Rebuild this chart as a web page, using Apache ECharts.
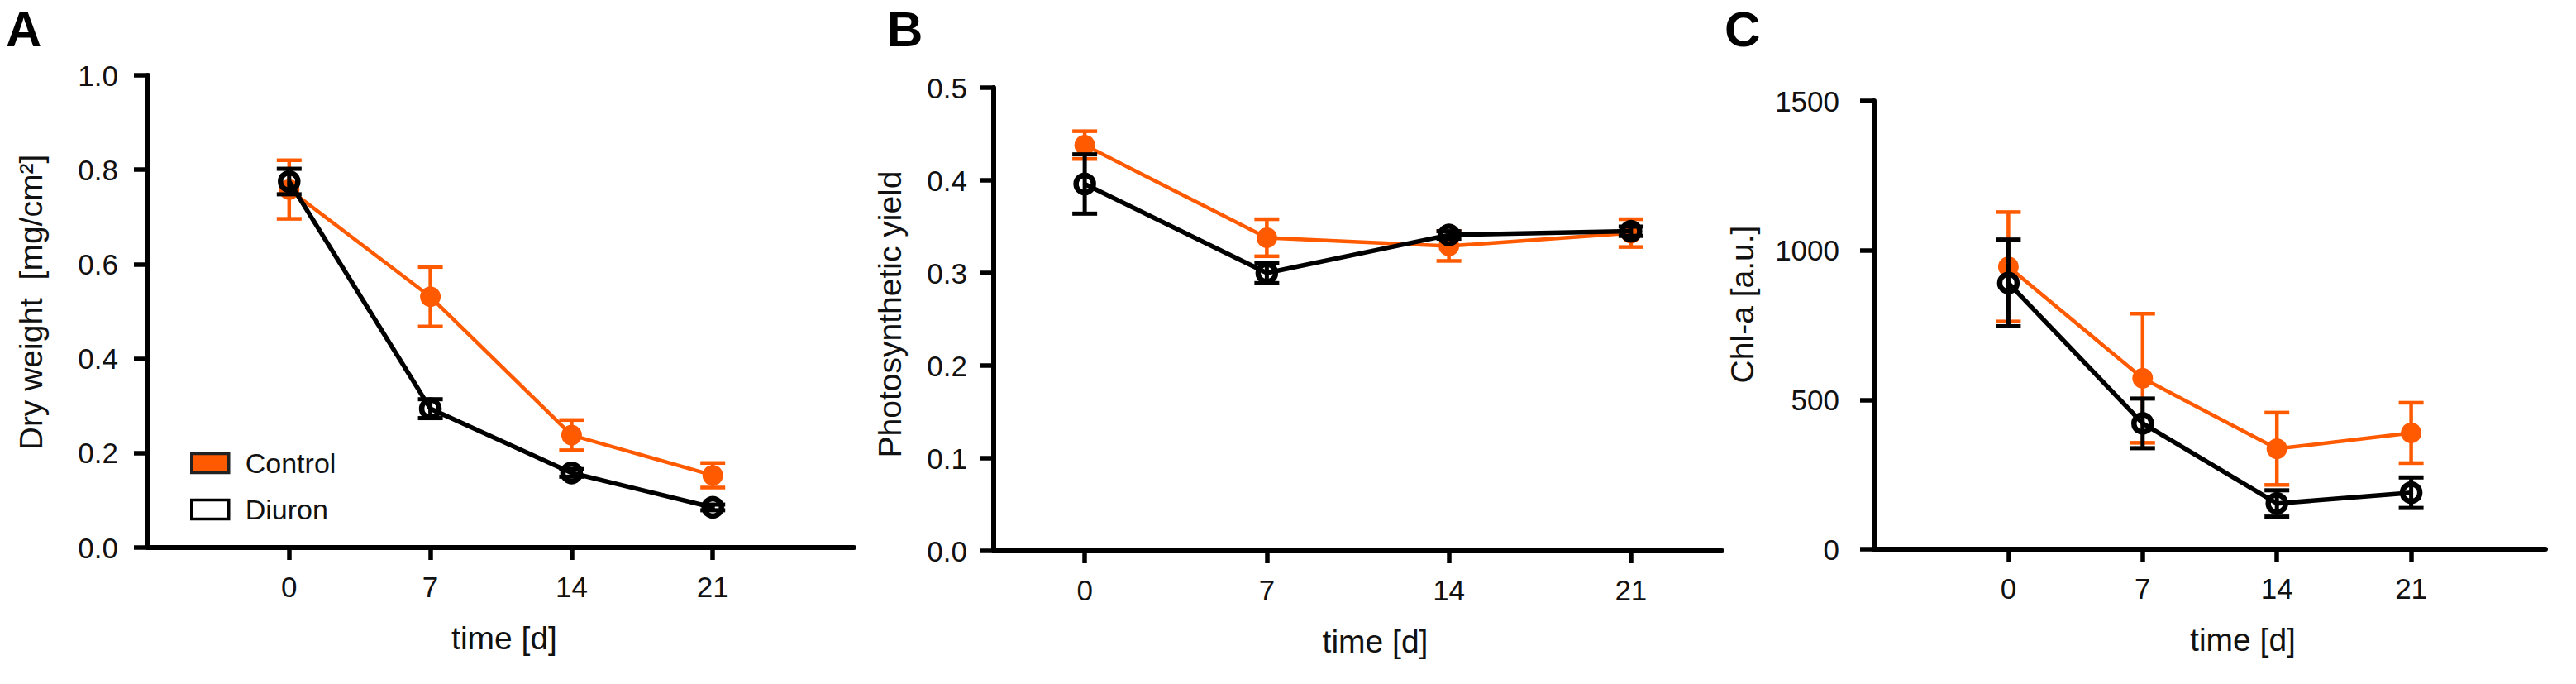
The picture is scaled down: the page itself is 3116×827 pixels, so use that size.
<!DOCTYPE html>
<html>
<head>
<meta charset="utf-8">
<script src="https://cdn.jsdelivr.net/npm/echarts@6/dist/echarts.min.js"></script>
<style>
  html, body { margin: 0; padding: 0; background: #fff; }
  #chart { width: 3116px; height: 827px; }
</style>
</head>
<body>
<div id="chart"></div>
<script>
// ---- data ----
const days = [0, 7, 14, 21];
const seriesNames = ['Control', 'Diuron'];
const panelLetters = ['A', 'B', 'C'];
const yTitles = ['Dry weight  [mg/cm²]', 'Photosynthetic yield', 'Chl-a [a.u.]'];
const xTitle = 'time [d]';

const dryCtrl = [0.758, 0.531, 0.238, 0.153];
const dryCtrlErr = [0.062, 0.063, 0.032, 0.026];
const dryDiu = [0.775, 0.294, 0.158, 0.085];
const dryDiuErr = [0.027, 0.020, 0.008, 0.006];

const yieldCtrl = [0.438, 0.338, 0.329, 0.343];
const yieldCtrlErr = [0.015, 0.020, 0.016, 0.015];
const yieldDiu = [0.396, 0.300, 0.341, 0.345];
const yieldDiuErr = [0.032, 0.011, 0.004, 0.005];

const chlCtrl = [945, 572, 336, 389];
const chlCtrlErr = [183, 216, 121, 101];
const chlDiu = [891, 421, 153, 189];
const chlDiuErr = [145, 83, 44, 51];

const yMax = [1.0, 0.5, 1500];
const yStep = [0.2, 0.1, 500];
const xMin = [-7, -3.5, -7];
const xMax = [28, 24.5, 28];

// ---- styling ----
const ORANGE = '#ff5a00';
const BLACK = '#000000';
const FONT = "'Liberation Sans', Arial, Helvetica, sans-serif";
const TEXT = '#111111';

const grids = [
  { left: 179, right: 3116 - 1033, top: 91, bottom: 827 - 662 },
  { left: 1202, right: 3116 - 2083, top: 106, bottom: 827 - 666 },
  { left: 2267, right: 3116 - 3079, top: 122, bottom: 827 - 664 }
];
const yLabelMargin = [36, 32, 42];
const yNameGap = [122, 106, 140];
const yNameShift = [22, 12, 50];
const xNameShift = [8, 42, 80];

function errRenderer(color, lw) {
  return function (params, api) {
    const x = api.value(0);
    const lo = api.coord([x, api.value(1)]);
    const hi = api.coord([x, api.value(2)]);
    const hw = 15;
    const style = { stroke: color, lineWidth: lw, fill: null };
    return {
      type: 'group',
      children: [
        { type: 'line', shape: { x1: lo[0], y1: lo[1], x2: hi[0], y2: hi[1] }, style: style },
        { type: 'line', shape: { x1: hi[0] - hw, y1: hi[1], x2: hi[0] + hw, y2: hi[1] }, style: style },
        { type: 'line', shape: { x1: lo[0] - hw, y1: lo[1], x2: lo[0] + hw, y2: lo[1] }, style: style }
      ]
    };
  };
}

function pts(vals) { return days.map((d, i) => [d, vals[i]]); }
function errPts(vals, errs) { return days.map((d, i) => [d, vals[i] - errs[i], vals[i] + errs[i]]); }

const panels = [
  [dryCtrl, dryCtrlErr, dryDiu, dryDiuErr],
  [yieldCtrl, yieldCtrlErr, yieldDiu, yieldDiuErr],
  [chlCtrl, chlCtrlErr, chlDiu, chlDiuErr]
];

const xAxes = [], yAxes = [], series = [];
panels.forEach((p, k) => {
  xAxes.push({
    type: 'value', gridIndex: k, min: xMin[k], max: xMax[k],
    name: xTitle, nameLocation: 'middle', nameGap: 90,
    nameTextStyle: { fontFamily: FONT, fontSize: 39, color: TEXT, padding: [0, 0, 0, xNameShift[k]] },
    axisLine: { show: true, onZero: false, lineStyle: { color: BLACK, width: 6 } },
    axisTick: { show: true, length: 15, lineStyle: { color: BLACK, width: 5.5 }, customValues: days },
    axisLabel: { show: true, margin: 30, fontFamily: FONT, fontSize: 35, color: TEXT, customValues: days },
    splitLine: { show: false }
  });
  yAxes.push({
    type: 'value', gridIndex: k, min: 0, max: yMax[k], interval: yStep[k],
    name: yTitles[k], nameLocation: 'middle', nameGap: yNameGap[k], nameRotate: 90,
    nameTextStyle: { fontFamily: FONT, fontSize: 39, color: TEXT, padding: [0, 0, 0, yNameShift[k]] },
    axisLine: { show: true, onZero: false, lineStyle: { color: BLACK, width: 6 } },
    axisTick: { show: true, length: 17, lineStyle: { color: BLACK, width: 5.5 } },
    axisLabel: {
      show: true, margin: yLabelMargin[k], fontFamily: FONT, fontSize: 35, color: TEXT,
      formatter: k === 2 ? (v => String(v)) : (v => v.toFixed(1))
    },
    splitLine: { show: false }
  });
  const [cm, ce, dm, de] = p;
  series.push({
    type: 'custom', name: seriesNames[0], xAxisIndex: k, yAxisIndex: k,
    renderItem: errRenderer(ORANGE, 4.5), data: errPts(cm, ce), z: 2, silent: true
  });
  series.push({
    type: 'line', name: seriesNames[0], xAxisIndex: k, yAxisIndex: k,
    data: pts(cm), symbol: 'circle', symbolSize: 25,
    itemStyle: { color: ORANGE },
    lineStyle: { color: ORANGE, width: 4.5 }, z: 3
  });
  series.push({
    type: 'custom', name: seriesNames[1], xAxisIndex: k, yAxisIndex: k,
    renderItem: errRenderer(BLACK, 5), data: errPts(dm, de), z: 4, silent: true
  });
  series.push({
    type: 'line', name: seriesNames[1], xAxisIndex: k, yAxisIndex: k,
    data: pts(dm), symbol: 'circle', symbolSize: 21,
    itemStyle: { color: 'rgba(0,0,0,0)', borderColor: BLACK, borderWidth: 6.5 },
    lineStyle: { color: BLACK, width: 5.5 }, z: 5
  });
});

const letterLeft = [7, 1073, 2086];

const option = {
  backgroundColor: '#ffffff',
  animation: false,
  title: panelLetters.map((t, i) => ({
    text: t, left: letterLeft[i], top: 3, padding: 0,
    textStyle: { fontFamily: FONT, fontSize: 60, fontWeight: 'bold', color: '#000', lineHeight: 64 }
  })),
  legend: {
    orient: 'vertical', left: 225, top: 538,
    itemWidth: 45, itemHeight: 23, itemGap: 22,
    formatter: name => '{t|' + name + '}',
    textStyle: {
      fontFamily: FONT, fontSize: 34, color: TEXT,
      rich: { t: { fontFamily: FONT, fontSize: 34, color: TEXT, padding: [0, 0, 0, 15] } }
    },
    selectedMode: false,
    data: [
      { name: 'Control', icon: 'rect', itemStyle: { color: ORANGE, borderColor: '#222', borderWidth: 3.5 } },
      { name: 'Diuron', icon: 'rect', itemStyle: { color: '#ffffff', borderColor: '#000', borderWidth: 3.5 } }
    ]
  },
  grid: grids,
  xAxis: xAxes,
  yAxis: yAxes,
  series: series
};

const chart = echarts.init(document.getElementById('chart'), null, { renderer: 'svg', width: 3116, height: 827 });
chart.setOption(option);
</script>
</body>
</html>
